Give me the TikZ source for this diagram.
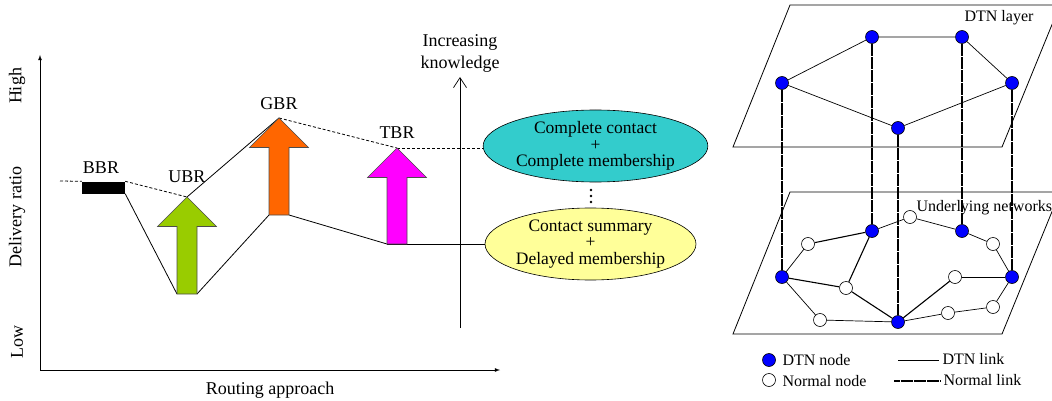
\documentclass[tikz,border=0pt]{standalone}
\usepackage{fontspec}
\setmainfont{Liberation Serif}
\usepackage{tikz}
\usetikzlibrary{arrows.meta,shapes.geometric,backgrounds}
\tikzset{>=latex}
\definecolor{ubrgreen}{RGB}{153,204,0}
\definecolor{gbrorange}{RGB}{255,102,0}
\definecolor{tbrpink}{RGB}{255,0,255}
\definecolor{fullcyan}{RGB}{51,204,204}
\definecolor{sumyellow}{RGB}{255,255,153}
\tikzset{
  dtnnode/.style={circle,draw=black,fill=blue,minimum size=13pt,inner sep=0pt,line width=0.6pt},
  normnode/.style={circle,draw=black,fill=white,minimum size=13pt,inner sep=0pt,line width=0.6pt},
  thinlink/.style={line width=0.7pt},
  boldlink/.style={line width=1.1pt},
  layerlink/.style={line width=1.8pt,dash pattern=on 6pt off 0.5pt},
  small/.style={font=\fontsize{16}{18}\selectfont},
  knowledge/.style={ellipse,draw=black,line width=0.6pt,minimum height=72pt,inner sep=0pt,
    align=center,font=\fontsize{17.5}{16.5}\selectfont}
}
\newcommand{\routearrow}[5]{%
  \filldraw[fill=#5,draw=black!70,line width=0.6pt] (#2,#3) -- (#2+29.5,#3+29.5) -- (#2+10,#3+29.5)
    -- (#2+10,#4) -- (#2-10,#4) -- (#2-10,#3+29.5) -- (#2-29.5,#3+29.5) -- cycle;
  \coordinate (#1-tip) at (#2,#3);
  \coordinate (#1-bl) at (#2-10,#4);
  \coordinate (#1-br) at (#2+10,#4);
}

\begin{document}
\begin{tikzpicture}[x=1pt,y=-1pt,font=\fontsize{18}{20}\selectfont]
  \useasboundingbox (0,0) rectangle (1052,401);
  \clip (0,0) rectangle (1052,401);

  \coordinate (origin) at (40,370);
  \coordinate (yend) at (40,55);
  \coordinate (xend) at (500,370);
  \draw[->,line width=0.8pt] (origin) -- (yend);
  \draw[->,line width=0.8pt] (origin) -- (xend);
  \node[rotate=90] (high) at (17,86) {High};
  \node[rotate=90] (ratio) at (17,217) {Delivery ratio};
  \node[rotate=90] (low) at (17,342) {Low};
  \node (approach) at (270,390) {Routing approach};

  \coordinate (bbrstart) at (60,181);
  \node[fill=black,minimum width=43pt,minimum height=12pt,inner sep=0pt] (bbr) at (103.5,187.5) {};
  \routearrow{ubr}{187}{197}{294}{ubrgreen}
  \routearrow{gbr}{279}{118}{215}{gbrorange}
  \routearrow{tbr}{397}{148}{244}{tbrpink}
  \node (bbrlab) at (101,168) {BBR};
  \node (ubrlab) at (187,177) {UBR};
  \node (gbrlab) at (279,104) {GBR};
  \node (tbrlab) at (397,133) {TBR};

  \coordinate (kbottom) at (460,328);
  \coordinate (ktop) at (460,77);
  \draw[-{Straight Barb[length=10pt,width=13pt]},line width=0.7pt] (kbottom) -- (ktop);
  \node[align=center,font=\fontsize{18}{22}\selectfont] (know) at (460,53) {Increasing\\knowledge};

  \node[knowledge,fill=fullcyan,minimum width=209pt] (full) at (595.5,146) {Complete contact\\+\\Complete membership};
  \node[knowledge,fill=sumyellow,minimum width=177pt] (summary) at (590.5,244) {Contact summary\\+\\Delayed membership};
  \coordinate (dots) at (591,196);
  \foreach \dy in {-6,0,6}
    \fill (dots) ++(0,\dy) circle (1.4pt);

  \begin{pgfonlayer}{background}
    \draw[densely dashed,line width=0.8pt] (bbrstart) -- (bbr.north west);
    \draw[densely dashed,line width=0.8pt] (bbr.north east) -- (ubr-tip);
    \draw[line width=0.8pt] (bbr.south east) -- (ubr-bl);
    \draw[line width=0.8pt] (ubr-tip) -- (gbr-tip);
    \draw[line width=0.8pt] (ubr-br) -- (gbr-bl);
    \draw[densely dashed,line width=0.8pt] (gbr-tip) -- (tbr-tip);
    \draw[line width=0.8pt] (gbr-br) -- (tbr-bl);
    \draw[densely dashed,line width=0.8pt] (tbr-tip) -- (tbr-tip -| full.west);
    \draw[line width=1pt] (tbr-bl) -- (tbr-bl -| summary.west);
  \end{pgfonlayer}

  \node[dtnnode] (ta) at (782,83) {};
  \node[dtnnode] (tb) at (872,37) {};
  \node[dtnnode] (tc) at (962,37) {};
  \node[dtnnode] (td) at (1012,83) {};
  \node[dtnnode] (te) at (898,128) {};
  \node[dtnnode] (ba) at (782,277) {};
  \node[dtnnode] (bb) at (872,231) {};
  \node[dtnnode] (bc) at (962,231) {};
  \node[dtnnode] (bd) at (1012,277) {};
  \node[dtnnode] (be) at (898,322) {};
  \node[normnode] (na) at (910,217) {};
  \node[normnode] (nb) at (808,244) {};
  \node[normnode] (nc) at (846,288) {};
  \node[normnode] (nd) at (820,320) {};
  \node[normnode] (ne) at (955,277) {};
  \node[normnode] (nf) at (993,244) {};
  \node[normnode] (ng) at (993,307) {};
  \node[normnode] (nh) at (948,313) {};
  \node[small] (dtnlayer) at (999,18) {DTN layer};
  \node[small,anchor=west] (underlying) at (913,208) {Underlying networks};

  \begin{pgfonlayer}{background}
    \draw[line width=0.8pt] (790,5) -- (1060,5) -- (1002,147) -- (733,147) -- cycle;
    \draw[line width=0.8pt] (790,192) -- (1060,192) -- (1002,334) -- (733,334) -- cycle;
    \draw[thinlink] (ta) -- (tb) -- (tc) -- (td) -- (te) -- (ta);
    \foreach \up/\down in {ta/ba,tb/bb,te/be,tc/bc,td/bd}
      \draw[layerlink] (\up) -- (\down);
    \draw[thinlink] (ba) -- (nb);
    \draw[thinlink] (bb) -- (na) -- (bc) -- (nf) -- (bd) -- (ng) -- (nh) -- (be) -- (nd) -- (ba);
    \draw[thinlink] (bd) -- (ne);
    \draw[boldlink] (nb) -- (bb) -- (nc) -- (be) -- (ne);
    \draw[boldlink] (ba) -- (nc);
  \end{pgfonlayer}

  \node[dtnnode] (keydtn) at (769,360) {};
  \node[small,anchor=west] (keydtntext) at (779,360) {DTN node};
  \node[normnode] (keynorm) at (769,380) {};
  \node[small,anchor=west] (keynormtext) at (779,381) {Normal node};
  \node[small,anchor=west] (keythin) at (939,359) {DTN link};
  \node[small,anchor=west] (keylayer) at (940,380) {Normal link};
  \coordinate (thinstart) at (898,360);
  \coordinate (layerstart) at (894,381);
  \draw[thinlink] (thinstart) -- (keythin.west |- thinstart);
  \draw[layerlink] (layerstart) -- (keylayer.west |- layerstart);
\end{tikzpicture}
\end{document}
